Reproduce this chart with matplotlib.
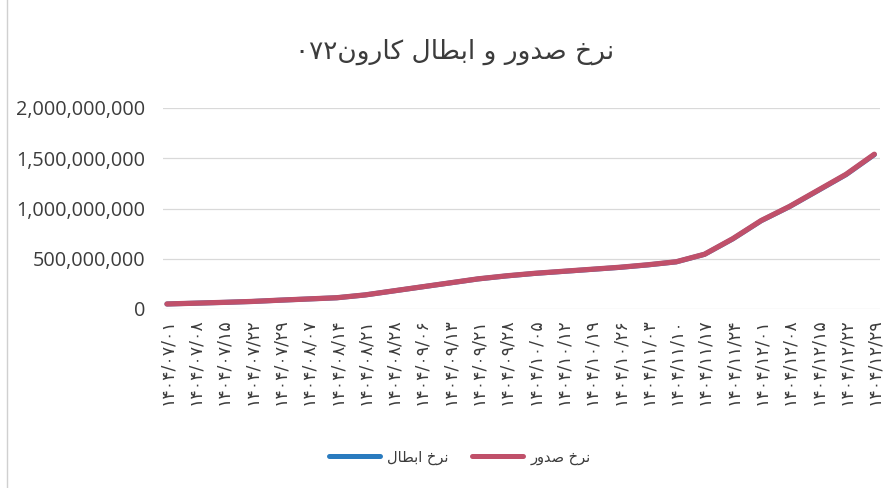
import matplotlib
matplotlib.use("Agg")
import matplotlib.pyplot as plt
from matplotlib.ticker import FuncFormatter, MultipleLocator
from matplotlib.lines import Line2D

# ---- data ----
dates = ["۱۴۰۴/۰۷/۰۱", "۱۴۰۴/۰۷/۰۸", "۱۴۰۴/۰۷/۱۵", "۱۴۰۴/۰۷/۲۲", "۱۴۰۴/۰۷/۲۹",
         "۱۴۰۴/۰۸/۰۷", "۱۴۰۴/۰۸/۱۴", "۱۴۰۴/۰۸/۲۱", "۱۴۰۴/۰۸/۲۸", "۱۴۰۴/۰۹/۰۶",
         "۱۴۰۴/۰۹/۱۳", "۱۴۰۴/۰۹/۲۱", "۱۴۰۴/۰۹/۲۸", "۱۴۰۴/۱۰/۰۵", "۱۴۰۴/۱۰/۱۲",
         "۱۴۰۴/۱۰/۱۹", "۱۴۰۴/۱۰/۲۶", "۱۴۰۴/۱۱/۰۳", "۱۴۰۴/۱۱/۱۰", "۱۴۰۴/۱۱/۱۷",
         "۱۴۰۴/۱۱/۲۴", "۱۴۰۴/۱۲/۰۱", "۱۴۰۴/۱۲/۰۸", "۱۴۰۴/۱۲/۱۵", "۱۴۰۴/۱۲/۲۲",
         "۱۴۰۴/۱۲/۲۹"]
issue_rate = [50e6, 58e6, 66e6, 75e6, 88e6, 100e6, 112e6, 140e6, 180e6, 220e6,
              260e6, 300e6, 330e6, 355e6, 375e6, 395e6, 415e6, 440e6, 470e6, 545e6,
              700e6, 880e6, 1020e6, 1180e6, 1340e6, 1540e6]
cancel_rate = [49.8e6, 57.8e6, 65.8e6, 74.8e6, 87.7e6, 99.7e6, 111.7e6, 139.6e6, 179.5e6, 219.4e6,
               259.3e6, 299.2e6, 329.1e6, 354e6, 374e6, 394e6, 414e6, 439e6, 469e6, 544e6,
               698e6, 878e6, 1018e6, 1177e6, 1337e6, 1536e6]

# Persian text in visual (shaped) order
title_txt = "۰۷۲" + "ﻥﻭﺭﺎﮐ" + " " + "ﻝﺎﻄﺑﺍ" + " " + "ﻭ" + " " + "ﺭﻭﺪﺻ" + " " + "ﺥﺮﻧ"
label_cancel = "ﻝﺎﻄﺑﺍ" + " " + "ﺥﺮﻧ"
label_issue = "ﺭﻭﺪﺻ" + " " + "ﺥﺮﻧ"

blue = "#2A7BBF"
red = "#C0506A"
txt = "#3c3c3c"

fig = plt.figure(figsize=(8.92, 4.88), dpi=100)
fig.patch.set_facecolor("white")
ax = fig.add_axes([163 / 892, 1 - 309 / 488, (880 - 163) / 892, (309 - 108) / 488])

x = list(range(len(dates)))
ax.plot(x, cancel_rate, color=blue, lw=3.6, solid_capstyle="round", zorder=3)
ax.plot(x, issue_rate, color=red, lw=3.8, solid_capstyle="round", zorder=4)

ax.set_ylim(0, 2e9)
ax.set_xlim(-0.14, 25.2)
ax.yaxis.set_major_locator(MultipleLocator(5e8))
ax.yaxis.set_major_formatter(FuncFormatter(lambda v, p: f"{int(v):,}"))
ax.grid(axis="y", color="#d9d9d9", lw=0.9)
ax.set_axisbelow(True)
for s in ax.spines.values():
    s.set_visible(False)

ax.set_xticks(x)
ax.set_xticklabels(dates, rotation=90, fontsize=12.5, family="DejaVu Sans", color=txt)
ax.tick_params(axis="x", length=0, pad=7)
ax.tick_params(axis="y", length=0, pad=13, labelsize=14.3, labelcolor=txt)
for t in ax.get_yticklabels():
    t.set_family(["Open Sans", "DejaVu Sans"])
for t in ax.get_xticklabels():
    t.set_verticalalignment("top")

fig.text(455 / 892, 1 - 52 / 488, title_txt, ha="center", va="center",
         fontsize=19, color=txt, family="DejaVu Sans")

handles = [Line2D([0], [0], color=blue, lw=3.6, solid_capstyle="round"),
           Line2D([0], [0], color=red, lw=3.6, solid_capstyle="round")]
fig.legend(handles, [label_cancel, label_issue], loc="center",
           bbox_to_anchor=(460 / 892, 1 - 457 / 488), ncol=2, frameon=False,
           prop={"family": "DejaVu Sans", "size": 10.5}, handlelength=3.5,
           columnspacing=1.6, handletextpad=0.5, labelcolor=txt)

fig.add_artist(Line2D([7 / 892, 7 / 892], [0, 1], transform=fig.transFigure,
                      color="#d0d0d0", lw=1))

fig.savefig("out.png", dpi=100)
